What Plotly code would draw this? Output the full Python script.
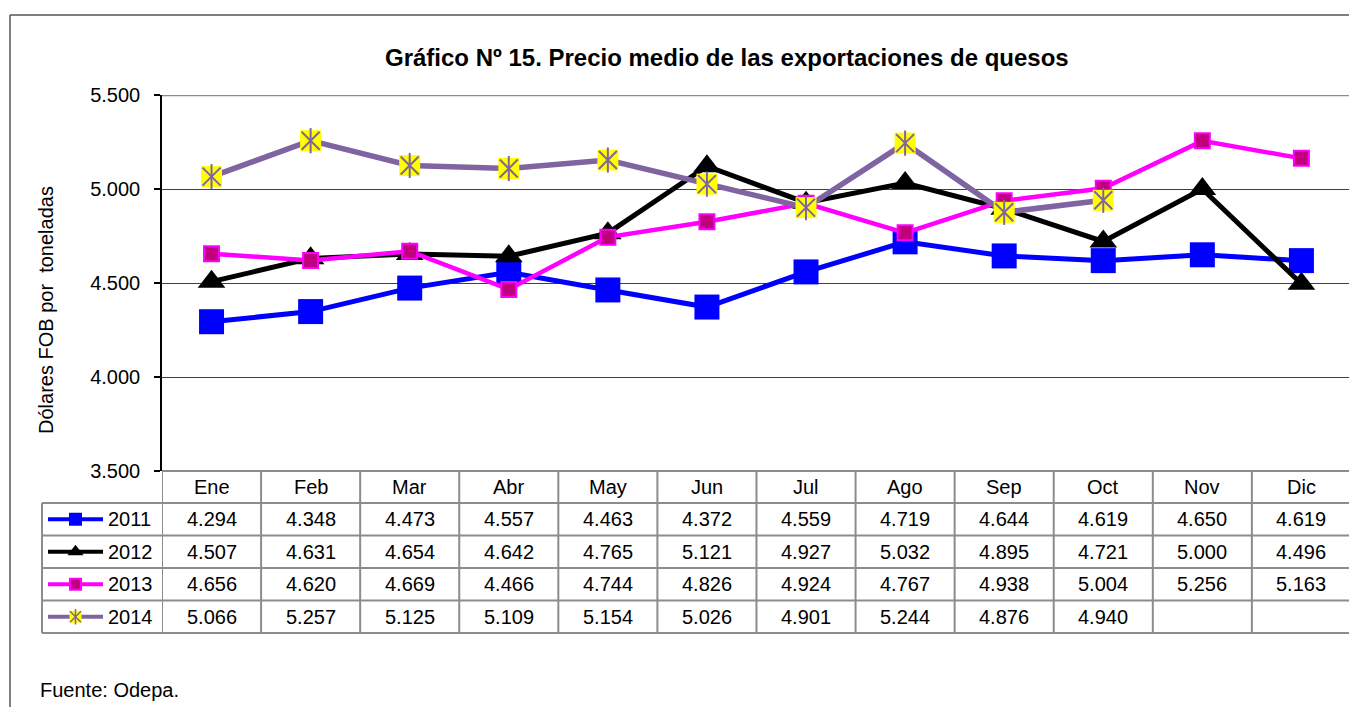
import plotly.graph_objects as go

months = ["Ene", "Feb", "Mar", "Abr", "May", "Jun", "Jul", "Ago", "Sep", "Oct", "Nov", "Dic"]
years = ["2011", "2012", "2013", "2014"]
v2011 = [4294, 4348, 4473, 4557, 4463, 4372, 4559, 4719, 4644, 4619, 4650, 4619]
v2012 = [4507, 4631, 4654, 4642, 4765, 5121, 4927, 5032, 4895, 4721, 5000, 4496]
v2013 = [4656, 4620, 4669, 4466, 4744, 4826, 4924, 4767, 4938, 5004, 5256, 5163]
v2014 = [5066, 5257, 5125, 5109, 5154, 5026, 4901, 5244, 4876, 4940, None, None]
y_ticks = [3500, 4000, 4500, 5000, 5500]

series = [v2011, v2012, v2013, v2014]
W, H = 1349, 707
FONT = "Liberation Sans, Arial, sans-serif"

# layout geometry (pixels)
PX_LEFT, COL_W = 162, 99.08
PLOT_TOP, PLOT_BOT = 95, 471
ROW_EDGES = [471, 503, 535.5, 568, 600.5, 633]

x_idx = list(range(len(months)))
fig = go.Figure()

styles = [
    dict(line=dict(color="#0000FF", width=5), marker=dict(symbol="square", size=25, color="#0000FF")),
    dict(line=dict(color="#000000", width=5), marker=dict(symbol="triangle-up", size=24, color="#000000")),
    dict(line=dict(color="#FF00FF", width=4.5), marker=dict(symbol="square", size=15, color="#C0007F",
                                                            line=dict(color="#FF00FF", width=2))),
    dict(line=dict(color="#8064A2", width=5.5), marker=dict(symbol="square", size=21, color="#FFFF00")),
]

for yr, vals, st in zip(years, series, styles):
    fig.add_trace(go.Scatter(x=x_idx, y=vals, mode="lines+markers", name=yr,
                             line=st["line"], marker=st["marker"], showlegend=False,
                             connectgaps=False, cliponaxis=False))
    if yr == "2014":
        for sym in ["x-thin-open", "line-ns-open"]:
            fig.add_trace(go.Scatter(x=x_idx, y=vals, mode="markers", showlegend=False,
                                     marker=dict(symbol=sym, size=18, color="#8064A2",
                                                 line=dict(color="#8064A2", width=2)),
                                     cliponaxis=False, hoverinfo="skip"))

# legend samples inside the data table (pixel overlay axes)
leg_marker_sizes = [13, 14, 11, 12]
for i, (yr, st) in enumerate(zip(years, styles)):
    yc = (ROW_EDGES[i + 1] + ROW_EDGES[i + 2]) / 2
    mk = dict(st["marker"])
    mk["size"] = leg_marker_sizes[i]
    ln = dict(st["line"])
    ln["width"] = 4
    fig.add_trace(go.Scatter(x=[48, 103], y=[yc, yc], mode="lines", line=ln, xaxis="x2", yaxis="y2",
                             showlegend=False, hoverinfo="skip"))
    fig.add_trace(go.Scatter(x=[75.5], y=[yc], mode="markers", marker=mk, xaxis="x2", yaxis="y2",
                             showlegend=False, hoverinfo="skip"))
    if yr == "2014":
        for sym in ["x-thin-open", "line-ns-open"]:
            fig.add_trace(go.Scatter(x=[75.5], y=[yc], mode="markers", xaxis="x2", yaxis="y2",
                                     marker=dict(symbol=sym, size=11, color="#8064A2",
                                                 line=dict(color="#8064A2", width=1.5)),
                                     showlegend=False, hoverinfo="skip"))

shapes = []
ann = []
TBL = "#8C8C8C"
n = len(months)
right_x = n - 0.5
# table horizontal lines
shapes.append(dict(type="line", xref="x", yref="y2", x0=-0.5, x1=right_x, y0=ROW_EDGES[0], y1=ROW_EDGES[0],
                   line=dict(color=TBL, width=2)))
for ye in ROW_EDGES[1:]:
    shapes.append(dict(type="line", xref="x2", yref="y2", x0=42, x1=PX_LEFT, y0=ye, y1=ye,
                       line=dict(color=TBL, width=2)))
    shapes.append(dict(type="line", xref="x", yref="y2", x0=-0.5, x1=right_x, y0=ye, y1=ye,
                       line=dict(color=TBL, width=2)))
# table vertical lines
shapes.append(dict(type="line", xref="x2", yref="y2", x0=42, x1=42, y0=ROW_EDGES[1], y1=ROW_EDGES[-1],
                   line=dict(color=TBL, width=2)))
for k in range(n + 1):
    shapes.append(dict(type="line", xref="x", yref="y2", x0=k - 0.5, x1=k - 0.5,
                       y0=ROW_EDGES[0], y1=ROW_EDGES[-1], line=dict(color=TBL, width=2)))
# plot area top border
shapes.append(dict(type="line", xref="x", yref="y", x0=-0.5, x1=right_x, y0=y_ticks[-1], y1=y_ticks[-1],
                   line=dict(color="#8C8C8C", width=2.5)))
# outer frame
shapes.append(dict(type="line", xref="x2", yref="y2", x0=10, x1=W + 5, y0=15, y1=15,
                   line=dict(color="#555555", width=1.5)))
shapes.append(dict(type="line", xref="x2", yref="y2", x0=10, x1=10, y0=15, y1=H + 5,
                   line=dict(color="#555555", width=1.5)))

def fmt(v):
    return "" if v is None else f"{v:,}".replace(",", ".")

hc = (ROW_EDGES[0] + ROW_EDGES[1]) / 2
for i, m in enumerate(months):
    ann.append(dict(x=i, y=hc, xref="x", yref="y2", text=m, showarrow=False,
                    font=dict(size=20, color="#000", family=FONT)))
for r, (yr, vals) in enumerate(zip(years, series)):
    yc = (ROW_EDGES[r + 1] + ROW_EDGES[r + 2]) / 2
    ann.append(dict(x=106, y=yc, xref="x2", yref="y2", text=yr, showarrow=False, xanchor="left",
                    font=dict(size=20, color="#000", family=FONT)))
    for i, v in enumerate(vals):
        if v is None:
            continue
        ann.append(dict(x=i, y=yc, xref="x", yref="y2", text=fmt(v), showarrow=False,
                        font=dict(size=20, color="#000", family=FONT)))

ann.append(dict(x=727, y=57, xref="x2", yref="y2", showarrow=False,
                text="<b>Gráfico Nº 15. Precio medio de las exportaciones de quesos</b>",
                font=dict(size=24, color="#000", family=FONT)))
ann.append(dict(x=46, y=310, xref="x2", yref="y2", showarrow=False, textangle=-90,
                text="Dólares FOB por  toneladas", font=dict(size=20, color="#000", family=FONT)))
ann.append(dict(x=38, y=690, xref="x2", yref="y2", showarrow=False, xanchor="left",
                text="Fuente: Odepa.", font=dict(size=20, color="#000", family=FONT)))

fig.update_layout(
    width=W, height=H, autosize=False,
    margin=dict(l=0, r=0, t=0, b=0, pad=0, autoexpand=False),
    paper_bgcolor="white", plot_bgcolor="rgba(0,0,0,0)",
    separators=",.",
    font=dict(family=FONT, size=20, color="#000"),
    xaxis=dict(domain=[PX_LEFT / W, 1], range=[-0.5, -0.5 + (W - PX_LEFT) / COL_W], automargin=False,
               showticklabels=False, showgrid=False, zeroline=False, showline=False, ticks=""),
    yaxis=dict(domain=[1 - PLOT_BOT / H, 1 - PLOT_TOP / H], range=[y_ticks[0], y_ticks[-1]],
               tickvals=y_ticks, tickformat=",d", showgrid=True, gridcolor="#404040", gridwidth=1,
               zeroline=False, showline=True, linecolor="#000", linewidth=1.5, automargin=False,
               ticks="outside", ticklen=6, tickcolor="#000", tickwidth=1.5,
               ticklabelstandoff=10, tickfont=dict(size=20, family=FONT)),
    xaxis2=dict(domain=[0, 1], range=[0, W], visible=False, anchor="y2", automargin=False),
    yaxis2=dict(domain=[0, 1], range=[H, 0], visible=False, anchor="x2", automargin=False),
    shapes=shapes, annotations=ann,
)

fig.write_html("out.html", config={"displayModeBar": False},
               post_script="document.body.style.margin='0';document.body.style.overflow='hidden';")
